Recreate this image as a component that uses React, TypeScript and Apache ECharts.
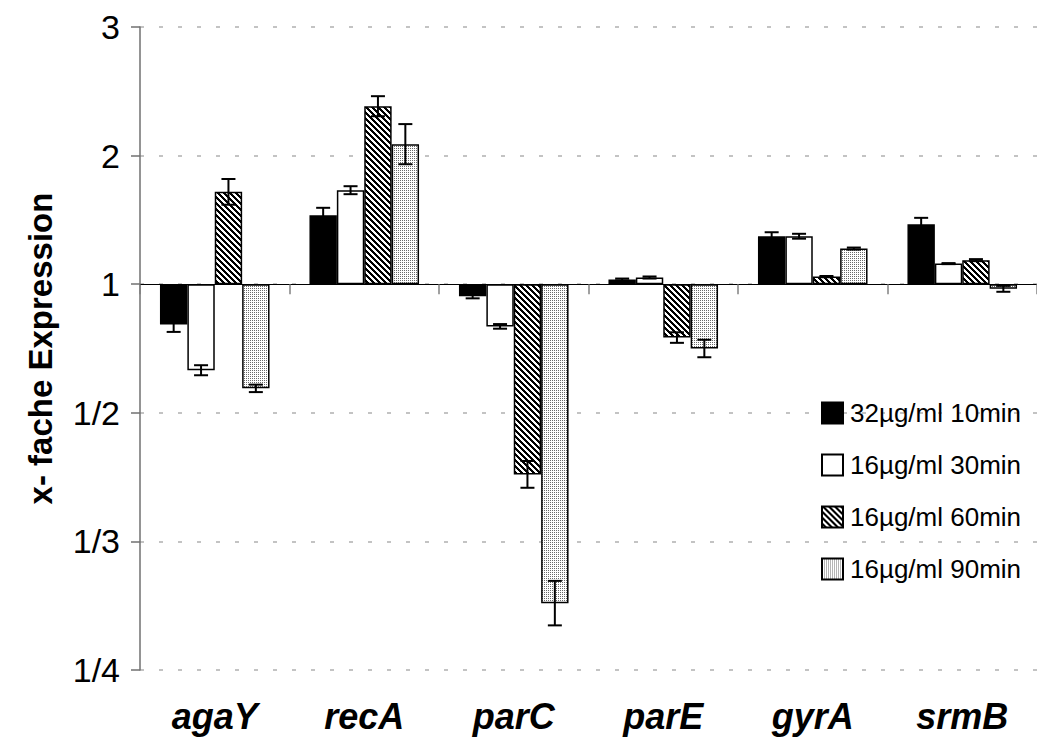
import React, { useEffect, useRef } from "react";
import * as echarts from "echarts";

const categories = ["agaY", "recA", "parC", "parE", "gyrA", "srmB"];
const seriesNames = ["32µg/ml 10min", "16µg/ml 30min", "16µg/ml 60min", "16µg/ml 90min"];
// y tick labels for axis values -3..2 (signed fold change: +n => (1+n)-fold, -n => 1/(1+n))
const yTickLabels = ["1/4", "1/3", "1/2", "1", "2", "3"];

// plotted values (signed fold units)
const s10min = [-0.313, 0.537, -0.094, 0.036, 0.373, 0.467];
const s30min = [-0.669, 0.731, -0.328, 0.052, 0.373, 0.16];
const s60min = [0.718, 1.384, -1.479, -0.415, 0.059, 0.187];
const s90min = [-0.81, 1.089, -2.48, -0.5, 0.277, -0.036];

// error bar half-lengths (same units)
const e10min = [0.058, 0.057, 0.016, 0.008, 0.031, 0.049];
const e30min = [0.039, 0.031, 0.018, 0.008, 0.019, 0.004];
const e60min = [0.1, 0.078, 0.104, 0.041, 0.005, 0.008];
const e90min = [0.029, 0.156, 0.173, 0.068, 0.008, 0.023];

const allValues = [s10min, s30min, s60min, s90min];
const allErrors = [e10min, e30min, e60min, e90min];

const CAT_GAP = 0.267;

function makeTile(size: number, fn: (x: number, y: number) => string | null) {
  const c = document.createElement("canvas");
  c.width = size;
  c.height = size;
  const ctx = c.getContext("2d")!;
  ctx.fillStyle = "#ffffff";
  ctx.fillRect(0, 0, size, size);
  for (let y = 0; y < size; y++) {
    for (let x = 0; x < size; x++) {
      const col = fn(x, y);
      if (col) {
        ctx.fillStyle = col;
        ctx.fillRect(x, y, 1, 1);
      }
    }
  }
  return c;
}

export default function App() {
  const ref = useRef<HTMLDivElement>(null);
  useEffect(() => {
    if (!ref.current) return;
    const chart = echarts.init(ref.current, undefined, { renderer: "svg" });

    const hatch = makeTile(6, (x, y) => ((((x - y) % 6) + 6) % 6 < 3 ? "#000000" : null));
    const dots = makeTile(2, (x, y) => (x === 0 && y === 0 ? "#6a6a6a" : null));

    const fills: any[] = [
      "#000000",
      "#ffffff",
      { image: hatch, repeat: "repeat", imageWidth: 6, imageHeight: 6 },
      { image: dots, repeat: "repeat", imageWidth: 2, imageHeight: 2 },
    ];

    const font = "'Liberation Sans', Arial, sans-serif";

    const barSeries = seriesNames.map((name, k) => ({
      name,
      type: "bar",
      xAxisIndex: 0,
      yAxisIndex: 0,
      barGap: "0%",
      barCategoryGap: CAT_GAP * 100 + "%",
      data: allValues[k],
      itemStyle: { color: fills[k], borderColor: "#000", borderWidth: 1.5 },
      z: 2,
    }));

    const errSeries = seriesNames.map((name, k) => ({
      name: name + " err",
      type: "custom",
      xAxisIndex: 0,
      yAxisIndex: 0,
      z: 5,
      data: allValues[k].map((v, i) => [i, v, allErrors[k][i]]),
      renderItem: (params: any, api: any) => {
        const ci = api.value(0);
        const v = api.value(1);
        const e = api.value(2);
        const band = api.size([1, 0])[0];
        const bw = (band * (1 - CAT_GAP)) / 4;
        const cx = api.coord([ci, 0])[0] + (k - 1.5) * bw;
        const yTop = api.coord([ci, v + e])[1];
        const yBot = api.coord([ci, v - e])[1];
        const half = 7;
        const st = { stroke: "#000", lineWidth: 2 };
        return {
          type: "group",
          children: [
            { type: "line", shape: { x1: cx, y1: yTop, x2: cx, y2: yBot }, style: st },
            { type: "line", shape: { x1: cx - half, y1: yTop, x2: cx + half, y2: yTop }, style: st },
            { type: "line", shape: { x1: cx - half, y1: yBot, x2: cx + half, y2: yBot }, style: st },
          ],
        };
      },
    }));

    chart.setOption({
      animation: false,
      backgroundColor: "#ffffff",
      grid: { left: 140, right: -3, top: 27, bottom: 79, containLabel: false },
      legend: {
        data: seriesNames,
        orient: "vertical",
        left: 816,
        top: 395,
        itemWidth: 21,
        itemHeight: 21,
        itemGap: 26,
        icon: "rect",
        textStyle: { fontSize: 26, color: "#000", fontFamily: font, padding: [0, 0, 0, 2] },
      },
      xAxis: [
        {
          type: "category",
          data: categories,
          axisLine: { onZero: true, lineStyle: { color: "#000", width: 1 } },
          axisTick: { show: true, length: 10, lineStyle: { color: "#808080", width: 1.5 } },
          axisLabel: { show: false },
          splitLine: { show: false },
        },
        {
          type: "category",
          data: categories,
          position: "bottom",
          axisLine: { show: false, onZero: false },
          axisTick: { show: false },
          axisLabel: {
            show: true,
            margin: 28,
            fontSize: 36,
            fontWeight: "bold",
            fontStyle: "italic",
            color: "#000",
            fontFamily: font,
          },
        },
      ],
      yAxis: {
        type: "value",
        min: -3,
        max: 2,
        interval: 1,
        name: "x- fache Expression",
        nameLocation: "middle",
        nameGap: 83,
        nameTextStyle: { fontSize: 33, fontWeight: "bold", color: "#000", fontFamily: font },
        axisLine: { show: true, lineStyle: { color: "#707070", width: 1.5 } },
        axisTick: { show: true, length: 9, lineStyle: { color: "#707070", width: 1.5 } },
        axisLabel: {
          margin: 20,
          fontSize: 34,
          color: "#000",
          fontFamily: font,
          formatter: (v: number) => yTickLabels[Math.round(v) + 3],
        },
        splitLine: { show: true, lineStyle: { color: "#b0b0b0", width: 1.5, type: [4, 15] } },
      },
      series: [...barSeries, ...errSeries],
    });
    return () => chart.dispose();
  }, []);
  return (
    <div
      ref={ref}
      style={{ position: "fixed", left: 0, top: 0, width: 1037, height: 749, background: "#fff" }}
    />
  );
}
